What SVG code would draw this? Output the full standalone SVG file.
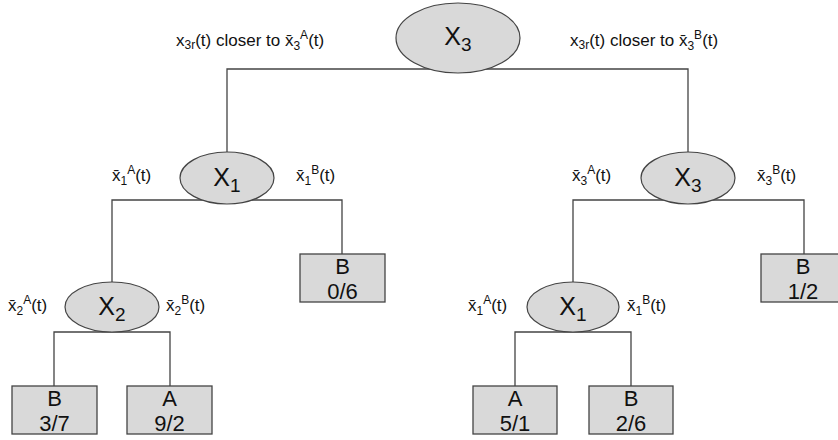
<svg xmlns="http://www.w3.org/2000/svg" width="838" height="440" viewBox="0 0 838 440">
<style>
text{font-family:"Liberation Sans",Arial,sans-serif;fill:#111}
.e{fill:#d9d9d9;stroke:#444;stroke-width:1.2}
.b{fill:#d9d9d9;stroke:#444;stroke-width:1.3}
.c{fill:none;stroke:#444;stroke-width:1.3}
.n{font-size:25px;text-anchor:middle}
.bt{font-size:22px;text-anchor:middle}
.l{font-size:17px}
.s{font-size:12px}
</style>
<rect width="838" height="440" fill="#fff"/>
<g id="connectors">
<polyline class="c" points="227,152 227,69 688,69 688,153"/>
<polyline class="c" points="112,283 112,200 342,200 342,254"/>
<polyline class="c" points="573,283 573,200 804,200 804,254"/>
<polyline class="c" points="54,386 54,332 170,332 170,386"/>
<polyline class="c" points="515,386 515,332 631,332 631,386"/>
</g>
<g id="n_root">
<ellipse class="e" cx="458" cy="38" rx="62" ry="35"/>
<text class="n" x="458" y="45">X<tspan dy="6" font-size="19">3</tspan></text>
</g>
<g id="lbl_root">
<text class="l" x="176" y="46">x<tspan class="s" dy="3">3r</tspan><tspan dy="-3">(t) closer to x̄</tspan><tspan class="s" dy="4">3</tspan><tspan class="s" dy="-11">A</tspan><tspan dy="7">(t)</tspan></text>
<text class="l" x="570" y="46">x<tspan class="s" dy="3">3r</tspan><tspan dy="-3">(t) closer to x̄</tspan><tspan class="s" dy="4">3</tspan><tspan class="s" dy="-11">B</tspan><tspan dy="7">(t)</tspan></text>
</g>
<g id="n_x1_left">
<ellipse class="e" cx="227" cy="178" rx="47" ry="26"/>
<text class="n" x="227" y="186">X<tspan dy="6" font-size="19">1</tspan></text>
<text class="l" x="112" y="181">x̄<tspan class="s" dy="4">1</tspan><tspan class="s" dy="-11">A</tspan><tspan dy="7">(t)</tspan></text>
<text class="l" x="296" y="181">x̄<tspan class="s" dy="4">1</tspan><tspan class="s" dy="-11">B</tspan><tspan dy="7">(t)</tspan></text>
</g>
<g id="n_x3_right">
<ellipse class="e" cx="688" cy="178" rx="47" ry="26"/>
<text class="n" x="688" y="186">X<tspan dy="6" font-size="19">3</tspan></text>
<text class="l" x="572" y="181">x̄<tspan class="s" dy="4">3</tspan><tspan class="s" dy="-11">A</tspan><tspan dy="7">(t)</tspan></text>
<text class="l" x="757" y="181">x̄<tspan class="s" dy="4">3</tspan><tspan class="s" dy="-11">B</tspan><tspan dy="7">(t)</tspan></text>
</g>
<g id="n_x2">
<ellipse class="e" cx="112" cy="307" rx="47" ry="25"/>
<text class="n" x="112" y="315">X<tspan dy="6" font-size="19">2</tspan></text>
<text class="l" x="8" y="311">x̄<tspan class="s" dy="4">2</tspan><tspan class="s" dy="-11">A</tspan><tspan dy="7">(t)</tspan></text>
<text class="l" x="166" y="311">x̄<tspan class="s" dy="4">2</tspan><tspan class="s" dy="-11">B</tspan><tspan dy="7">(t)</tspan></text>
</g>
<g id="n_x1_right">
<ellipse class="e" cx="573" cy="307" rx="46" ry="25"/>
<text class="n" x="573" y="315">X<tspan dy="6" font-size="19">1</tspan></text>
<text class="l" x="468" y="311">x̄<tspan class="s" dy="4">1</tspan><tspan class="s" dy="-11">A</tspan><tspan dy="7">(t)</tspan></text>
<text class="l" x="627" y="311">x̄<tspan class="s" dy="4">1</tspan><tspan class="s" dy="-11">B</tspan><tspan dy="7">(t)</tspan></text>
</g>
<g id="leaf_b06">
<rect class="b" x="300" y="254" width="85" height="48"/>
<text class="bt" x="342.5" y="274">B</text>
<text class="bt" x="342.5" y="299">0/6</text>
</g>
<g id="leaf_b12">
<rect class="b" x="761" y="254" width="85" height="48"/>
<text class="bt" x="803" y="274">B</text>
<text class="bt" x="803" y="299">1/2</text>
</g>
<g id="leaf_b37">
<rect class="b" x="12" y="386" width="85" height="48"/>
<text class="bt" x="54.5" y="406">B</text>
<text class="bt" x="54.5" y="431">3/7</text>
</g>
<g id="leaf_a92">
<rect class="b" x="127" y="386" width="85" height="48"/>
<text class="bt" x="169.5" y="406">A</text>
<text class="bt" x="169.5" y="431">9/2</text>
</g>
<g id="leaf_a51">
<rect class="b" x="473" y="386" width="84" height="48"/>
<text class="bt" x="515" y="406">A</text>
<text class="bt" x="515" y="431">5/1</text>
</g>
<g id="leaf_b26">
<rect class="b" x="589" y="386" width="84" height="48"/>
<text class="bt" x="631" y="406">B</text>
<text class="bt" x="631" y="431">2/6</text>
</g>
</svg>
